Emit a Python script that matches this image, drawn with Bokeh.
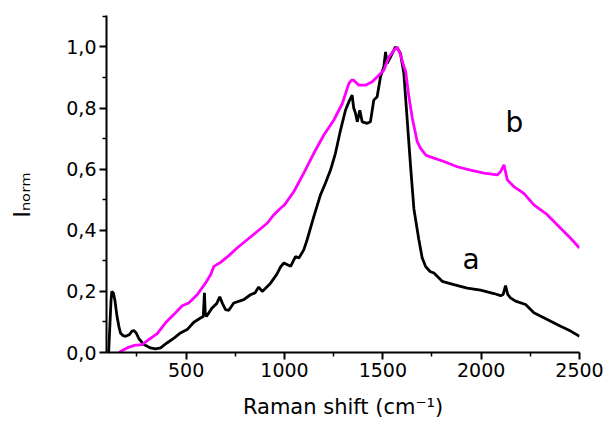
import math
from bokeh.plotting import figure
from bokeh.models import FixedTicker, CustomJSTickFormatter, Label, Range1d
from bokeh.embed import file_html
from bokeh.resources import INLINE

# Curve a (black)
xa = [100, 106, 113, 118, 122, 130, 138, 148, 158, 166, 180, 192, 210, 225, 234, 245,
      260, 285, 319, 344, 370, 404, 440, 471, 505, 539, 573, 587, 593, 597, 603, 632,
      655, 671, 685, 700, 717, 742, 793, 827, 850, 869, 887, 929, 960, 980, 997, 1031,
      1056, 1073, 1098, 1115, 1149, 1183, 1208, 1234, 1259, 1285, 1310, 1327, 1344,
      1352, 1361, 1370, 1383, 1395, 1421, 1437, 1454, 1471, 1488, 1505, 1514, 1522,
      1539, 1564, 1580, 1590, 1607, 1624, 1641, 1658, 1683, 1700, 1717, 1740, 1760,
      1802, 1861, 1929, 1997, 2065, 2099, 2112, 2124, 2135, 2149, 2175, 2226, 2268,
      2336, 2404, 2455, 2500]
ya = [0.0, 0.0, 0.10, 0.17, 0.20, 0.195, 0.17, 0.12, 0.085, 0.064, 0.055, 0.053, 0.058,
      0.070, 0.072, 0.065, 0.045, 0.026, 0.015, 0.012, 0.015, 0.032, 0.048, 0.064, 0.075,
      0.099, 0.113, 0.118, 0.195, 0.13, 0.118, 0.146, 0.160, 0.182, 0.16, 0.14, 0.138,
      0.162, 0.173, 0.189, 0.195, 0.214, 0.200, 0.227, 0.255, 0.28, 0.293, 0.282, 0.314,
      0.309, 0.336, 0.369, 0.445, 0.516, 0.554, 0.597, 0.652, 0.728, 0.793, 0.820, 0.842,
      0.80, 0.783, 0.755, 0.793, 0.755, 0.75, 0.755, 0.826, 0.837, 0.902, 0.935, 0.984,
      0.946, 0.967, 1.0, 0.99, 0.978, 0.913, 0.761, 0.61, 0.47, 0.37, 0.31, 0.282, 0.265,
      0.26, 0.233, 0.222, 0.211, 0.204, 0.193, 0.186, 0.19, 0.219, 0.19, 0.179, 0.168,
      0.157, 0.13, 0.108, 0.086, 0.07, 0.053]

# Curve b (magenta)
xb = [158, 180, 200, 234, 276, 310, 353, 395, 437, 480, 513, 556, 598, 625, 641, 675,
      717, 759, 810, 861, 912, 946, 980, 1000, 1048, 1098, 1149, 1200, 1251, 1294, 1327,
      1340, 1352, 1378, 1412, 1446, 1471, 1505, 1531, 1556, 1573, 1590, 1605, 1616, 1632,
      1649, 1675, 1692, 1720, 1760, 1811, 1878, 1946, 2014, 2082, 2099, 2116, 2133, 2166,
      2217, 2268, 2336, 2404, 2455, 2500]
yb = [0.0, 0.008, 0.015, 0.023, 0.026, 0.042, 0.062, 0.097, 0.124, 0.153, 0.162, 0.189,
      0.227, 0.255, 0.282, 0.295, 0.317, 0.342, 0.369, 0.396, 0.423, 0.451, 0.472, 0.483,
      0.527, 0.587, 0.652, 0.712, 0.761, 0.815, 0.880, 0.891, 0.891, 0.875, 0.875, 0.886,
      0.902, 0.924, 0.967, 0.989, 1.0, 0.975, 0.94, 0.92, 0.84, 0.77, 0.69, 0.668, 0.645,
      0.636, 0.625, 0.608, 0.597, 0.587, 0.581, 0.592, 0.614, 0.565, 0.543, 0.521, 0.483,
      0.451, 0.407, 0.374, 0.342]

x_major = [500, 1000, 1500, 2000, 2500]
x_minor = [250, 750, 1250, 1750, 2250]
y_major = [0.0, 0.2, 0.4, 0.6, 0.8, 1.0]
y_minor = [0.1, 0.3, 0.5, 0.7, 0.9, 1.1]

x_title = "Raman shift (cm\u207b\u00b9)"
y_title = "I\u2099\u2092\u1d63\u2098\u00a0\u00a0\u00a0"

FONT = "DejaVu Sans"

p = figure(width=606, height=421, output_backend="svg", toolbar_location=None,
           x_range=Range1d(95, 2500), y_range=Range1d(0, 1.103),
           min_border_left=106, min_border_right=27, min_border_top=15,
           min_border_bottom=68)
p.outline_line_color = None
p.xgrid.visible = False
p.ygrid.visible = False
p.background_fill_color = "white"
p.border_fill_color = "white"

p.line(xa, ya, line_color="black", line_width=2.8)
p.line(xb, yb, line_color="#FF00FF", line_width=2.8)

for ax in (p.xaxis[0], p.yaxis[0]):
    ax.axis_line_width = 2
    ax.major_tick_line_width = 2
    ax.minor_tick_line_width = 1.5
    ax.major_tick_in = 0
    ax.major_tick_out = 7
    ax.minor_tick_in = 0
    ax.minor_tick_out = 4
    ax.major_label_text_font = FONT
    ax.major_label_text_font_size = "19px"
    ax.major_label_text_color = "black"
    ax.axis_line_color = "black"
    ax.major_tick_line_color = "black"
    ax.minor_tick_line_color = "black"
    ax.axis_label_text_font = FONT
    ax.axis_label_text_font_style = "normal"
    ax.axis_label_text_color = "black"

p.xaxis.ticker = FixedTicker(ticks=x_major, minor_ticks=x_minor)
p.yaxis.ticker = FixedTicker(ticks=y_major, minor_ticks=y_minor)
p.yaxis.formatter = CustomJSTickFormatter(code="return tick.toFixed(1).replace('.', ',');")
p.xaxis.major_label_standoff = 3
p.yaxis.major_label_standoff = 3

p.xaxis.axis_label = x_title
p.xaxis.axis_label_text_font_size = "21px"
p.xaxis.axis_label_standoff = 15
p.yaxis.axis_label = y_title
p.yaxis.axis_label_text_font_size = "23px"
p.yaxis.axis_label_standoff = 28


def dx(px):
    return 95 + (px - 106) / 0.19665


def dy(py):
    return (353 - py) / 306.3


labels = [
    Label(x=dx(505), y=dy(122), text="b", text_font_size="28px",
          text_align="left", text_baseline="alphabetic"),
    Label(x=dx(462), y=dy(260), text="a", text_font_size="28px",
          text_align="left", text_baseline="alphabetic"),
]
for lb in labels:
    lb.text_font = FONT
    lb.text_color = "black"
    p.add_layout(lb)

open("out.html", "w").write(file_html(p, INLINE))
